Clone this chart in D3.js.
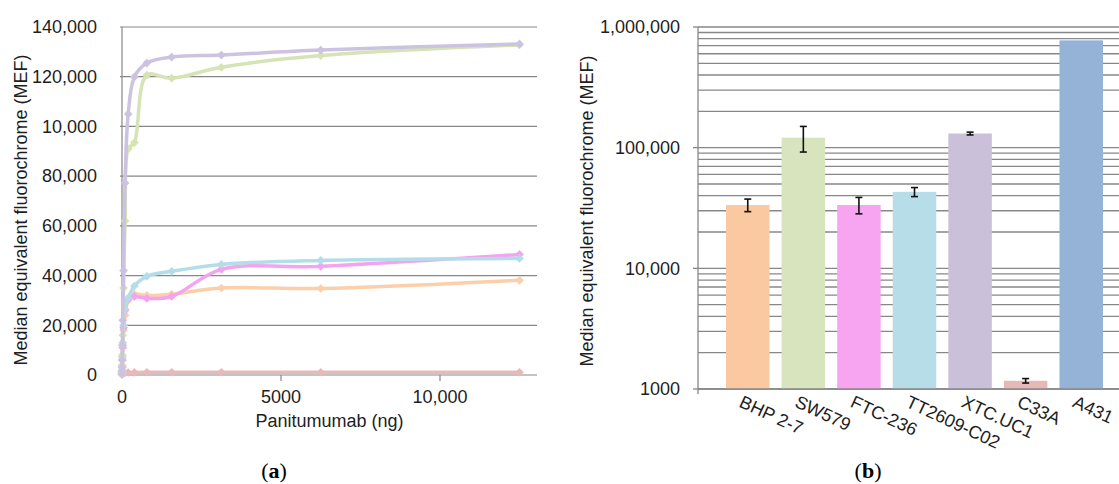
<!DOCTYPE html>
<html>
<head>
<meta charset="utf-8">
<script src="https://cdn.jsdelivr.net/npm/d3@7"></script>
<style>
  body { margin: 0; background: #fff; }
  svg { display: block; font-family: "Liberation Sans", Arial, sans-serif; }
</style>
</head>
<body>
<svg class="svg"></svg>
<script>
// ---- data (a): panitumumab titration, MEF per cell line
const concentrations = [0, 1.5, 3.1, 6.1, 12.2, 24.4, 48.8, 97.7, 195, 390, 781, 1562, 3125, 6250, 12500];
const c33aLine   = [200, 300, 400, 500, 600, 700, 800, 900, 1000, 1050, 1100, 1100, 1100, 1100, 1100];
const bhpLine    = [300, 900, 1800, 3500, 7000, 12000, 18000, 24000, 30000, 32500, 32000, 32500, 35000, 34800, 38100];
const ftcLine    = [300, 800, 1600, 3200, 6000, 11000, 19000, 26000, 30500, 31600, 30800, 31600, 42500, 43700, 48500];
const ttLine     = [300, 900, 1900, 3800, 7500, 13000, 20000, 26500, 31000, 35800, 39700, 41700, 44500, 46100, 46900];
const swLine     = [400, 1000, 2000, 4000, 8000, 16000, 35000, 62000, 91000, 93500, 120600, 119400, 123800, 128500, 132800];
const xtcLine    = [500, 1500, 3000, 6000, 12000, 22000, 42000, 77200, 105000, 119900, 125500, 127900, 128700, 130700, 133200];
const lineColors = ["#e8b9b9", "#fccfaa", "#f4a3f0", "#b3dde8", "#d5e3b5", "#ccc3e0"];
const leftYTicks = [0, 20000, 40000, 60000, 80000, 100000, 120000, 140000];
const leftYLabels = ["0", "20,000", "40,000", "60,000", "80,000", "10,000", "120,000", "140,000"];
const leftXTicks = [0, 5000, 10000];
const leftXLabels = ["0", "5000", "10,000"];

// ---- data (b): MEF per cell line (log scale)
const cellLines = ["BHP 2-7", "SW579", "FTC-236", "TT2609-C02", "XTC.UC1", "C33A", "A431"];
const barValues = [33500, 121000, 33500, 43000, 131000, 1170, 775000];
const barErrors = [4000, 29000, 5200, 3700, 3500, 50, 0];
const barColors = ["#fac9a1", "#d7e4bd", "#f7a5f1", "#b6dde8", "#cbc0da", "#e6b9b8", "#95b3d7"];
const rightYTicks = [1000, 10000, 100000, 1000000];
const rightYLabels = ["1000", "10,000", "100,000", "1,000,000"];

const W = 1119, H = 484;
const svg = d3.select(".svg").attr("width", W).attr("height", H);
svg.append("rect").attr("width", W).attr("height", H).attr("fill", "#fff");

const textColor = "#1e1e1e";
const gridColor = "#878787";

// ================= chart (a) =================
const left = { x0: 122, x1: 537, y0: 375, y1: 27 };
const xL = d3.scaleLinear().domain([0, 10000]).range([122, 440]);
const yL = d3.scaleLinear().domain([0, 140000]).range([left.y0, left.y1]);

const gA = svg.append("g");

gA.selectAll("line.grid")
  .data(leftYTicks)
  .join("line")
  .attr("class", "grid")
  .attr("x1", left.x0 - 2).attr("x2", left.x1)
  .attr("y1", d => yL(d)).attr("y2", d => yL(d))
  .attr("stroke", gridColor).attr("stroke-width", 1.2);

gA.append("line")
  .attr("x1", left.x0).attr("x2", left.x0)
  .attr("y1", left.y1).attr("y2", left.y0)
  .attr("stroke", gridColor).attr("stroke-width", 1.2);

gA.selectAll("line.xtick")
  .data(leftXTicks.slice(1))
  .join("line")
  .attr("class", "xtick")
  .attr("x1", d => xL(d)).attr("x2", d => xL(d))
  .attr("y1", left.y0).attr("y2", left.y0 + 6)
  .attr("stroke", gridColor).attr("stroke-width", 1.2);

gA.selectAll("text.ylab")
  .data(leftYTicks)
  .join("text")
  .attr("class", "ylab")
  .attr("x", 97).attr("y", d => yL(d))
  .attr("dy", "0.35em")
  .attr("text-anchor", "end")
  .attr("font-size", 18).attr("fill", textColor)
  .text((d, i) => leftYLabels[i]);

gA.selectAll("text.xlab")
  .data(leftXTicks)
  .join("text")
  .attr("class", "xlab")
  .attr("x", d => xL(d)).attr("y", 403)
  .attr("text-anchor", "middle")
  .attr("font-size", 18).attr("fill", textColor)
  .text((d, i) => leftXLabels[i]);

gA.append("text")
  .attr("x", (left.x0 + left.x1) / 2).attr("y", 427)
  .attr("text-anchor", "middle")
  .attr("font-size", 18).attr("fill", textColor)
  .text("Panitumumab (ng)");

gA.append("text")
  .attr("transform", "translate(21,210) rotate(-90)")
  .attr("dy", "0.35em")
  .attr("text-anchor", "middle")
  .attr("font-size", 18).attr("fill", textColor)
  .text("Median equivalent fluorochrome (MEF)");

const series = [c33aLine, bhpLine, ftcLine, ttLine, swLine, xtcLine];
const line = d3.line()
  .x((d, i) => xL(concentrations[i]))
  .y(d => yL(d))
  .curve(d3.curveCatmullRom.alpha(0.5));

const sg = gA.selectAll("g.series")
  .data(series)
  .join("g")
  .attr("class", "series");

sg.append("path")
  .attr("d", d => line(d))
  .attr("fill", "none")
  .attr("stroke", (d, i) => lineColors[i])
  .attr("stroke-width", 3.5)
  .attr("stroke-linejoin", "round");

const diamond = d3.symbol().type(d3.symbolSquare).size(38);
sg.each(function (vals, si) {
  d3.select(this).selectAll("path.mk")
    .data(vals)
    .join("path")
    .attr("class", "mk")
    .attr("d", diamond)
    .attr("transform", (d, i) => `translate(${xL(concentrations[i])},${yL(d)}) rotate(45)`)
    .attr("fill", lineColors[si]);
});

// ================= chart (b) =================
const right = { x0: 698, x1: 1119, y0: 389, y1: 27 };
const xR = d3.scaleBand().domain(cellLines).range([726, 1103]).paddingInner(0.217).paddingOuter(0);
const yR = d3.scaleLog().domain([1000, 1000000]).range([right.y0, right.y1]);

const gB = svg.append("g");

gB.selectAll("line.grid")
  .data(yR.ticks())
  .join("line")
  .attr("class", "grid")
  .attr("x1", right.x0).attr("x2", right.x1)
  .attr("y1", d => yR(d)).attr("y2", d => yR(d))
  .attr("stroke", gridColor).attr("stroke-width", 1.3);

gB.selectAll("line.ytick")
  .data(rightYTicks)
  .join("line")
  .attr("class", "ytick")
  .attr("x1", right.x0 - 5).attr("x2", right.x0)
  .attr("y1", d => yR(d)).attr("y2", d => yR(d))
  .attr("stroke", gridColor).attr("stroke-width", 1.3);

gB.append("line")
  .attr("x1", right.x0).attr("x2", right.x0)
  .attr("y1", right.y1).attr("y2", right.y0 + 5)
  .attr("stroke", gridColor).attr("stroke-width", 1.3);

gB.selectAll("rect.bar")
  .data(barValues)
  .join("rect")
  .attr("class", "bar")
  .attr("x", (d, i) => xR(cellLines[i]))
  .attr("width", xR.bandwidth())
  .attr("y", d => yR(d))
  .attr("height", d => yR(1000) - yR(d))
  .attr("fill", (d, i) => barColors[i]);

// error bars
const eb = gB.selectAll("g.err")
  .data(barValues.map((v, i) => ({ v, e: barErrors[i], name: cellLines[i] })).filter(d => d.e > 0))
  .join("g")
  .attr("class", "err")
  .attr("stroke", "#111").attr("stroke-width", 1.6);
const cx = d => xR(d.name) + xR.bandwidth() / 2;
eb.append("line")
  .attr("x1", cx).attr("x2", cx)
  .attr("y1", d => yR(d.v + d.e)).attr("y2", d => yR(d.v - d.e));
eb.append("line")
  .attr("x1", d => cx(d) - 3.5).attr("x2", d => cx(d) + 3.5)
  .attr("y1", d => yR(d.v + d.e)).attr("y2", d => yR(d.v + d.e));
eb.append("line")
  .attr("x1", d => cx(d) - 3.5).attr("x2", d => cx(d) + 3.5)
  .attr("y1", d => yR(d.v - d.e)).attr("y2", d => yR(d.v - d.e));

gB.append("line")
  .attr("x1", right.x0).attr("x2", right.x1)
  .attr("y1", right.y0).attr("y2", right.y0)
  .attr("stroke", gridColor).attr("stroke-width", 1.3);

gB.selectAll("text.ylab")
  .data(rightYTicks)
  .join("text")
  .attr("class", "ylab")
  .attr("x", 680).attr("y", d => yR(d))
  .attr("dy", "0.35em")
  .attr("text-anchor", "end")
  .attr("font-size", 18).attr("fill", textColor)
  .text((d, i) => rightYLabels[i]);

gB.selectAll("text.xlab")
  .data(cellLines)
  .join("text")
  .attr("class", "xlab")
  .attr("transform", d => `translate(${xR(d) + xR.bandwidth() / 2 - 4},394) rotate(25)`)
  .attr("dy", "0.75em")
  .attr("font-size", 18).attr("fill", textColor)
  .text(d => d);

gB.append("text")
  .attr("transform", "translate(587,211) rotate(-90)")
  .attr("dy", "0.35em")
  .attr("text-anchor", "middle")
  .attr("font-size", 18).attr("fill", textColor)
  .text("Median equivalent fluorochrome (MEF)");

// panel letters
[["a", 274], ["b", 868]].forEach(([k, x]) => {
  const t = svg.append("text")
    .attr("x", x).attr("y", 478)
    .attr("text-anchor", "middle")
    .attr("font-family", "'Liberation Serif', 'DejaVu Serif', serif")
    .attr("font-size", 22).attr("fill", "#000");
  t.append("tspan").text("(");
  t.append("tspan").attr("font-weight", "bold").text(k);
  t.append("tspan").text(")");
});
</script>
</body>
</html>
